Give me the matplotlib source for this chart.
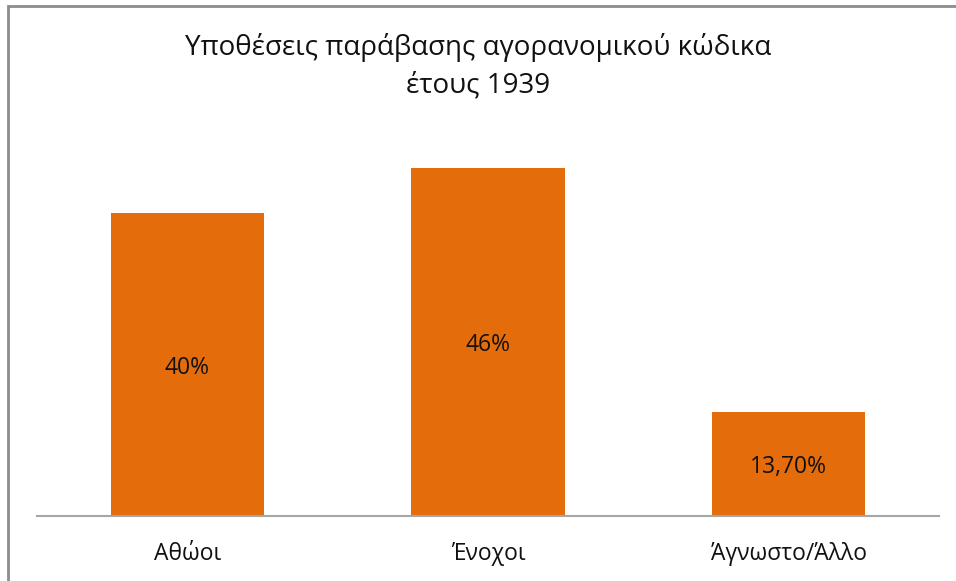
import matplotlib.pyplot as plt
from matplotlib.patches import Rectangle

categories = ["Αθώοι", "Ένοχοι", "Άγνωστο/Άλλο"]
values = [40, 46, 13.7]
value_labels = ["40%", "46%", "13,70%"]

W, H = 956, 581
plt.rcParams["font.family"] = ["Open Sans", "DejaVu Sans"]

fig = plt.figure(figsize=(W / 100, H / 100), dpi=100)
ax = fig.add_axes([37 / W, 1 - 516 / H, (939 - 37) / W, (516 - 137.5) / H])

bars = ax.bar(range(len(categories)), values, width=0.51, color="#E46C0A")
for rect, lab in zip(bars, value_labels):
    ax.text(rect.get_x() + rect.get_width() / 2, rect.get_height() / 2, lab,
            ha="center", va="center_baseline", fontsize=16.5, color="#111111")

ax.set_xlim(-0.5, len(categories) - 0.5)
ax.set_ylim(0, 50)
ax.set_xticks(range(len(categories)))
ax.set_xticklabels(categories, fontsize=16.5, color="#111111")
ax.tick_params(axis="x", length=0, pad=19)
ax.set_yticks([])
for side in ["left", "right", "top"]:
    ax.spines[side].set_visible(False)
ax.spines["bottom"].set_color("#a6a6a6")
ax.spines["bottom"].set_linewidth(1.5)

fig.text(0.5, 1 - 47 / H, "Υποθέσεις παράβασης αγορανομικού κώδικα",
         ha="center", va="center", fontsize=20, color="#111111")
fig.text(0.5, 1 - 86 / H, "έτους 1939",
         ha="center", va="center", fontsize=20, color="#111111")

# chart border (only top and left visible in the crop)
fig.patches.append(Rectangle((8 / W, -0.1), 1.2, 1 - 6 / H + 0.1,
                             transform=fig.transFigure, fill=False,
                             edgecolor="#8c8c8c", linewidth=2))

fig.savefig("out.png", dpi=100)
